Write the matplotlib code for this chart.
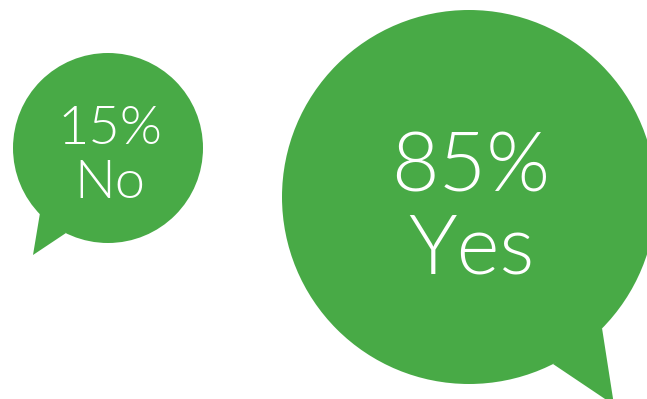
import matplotlib
matplotlib.use("Agg")
import matplotlib.pyplot as plt
from matplotlib.patches import Circle, Polygon

# Survey answers
answers = ["No", "Yes"]
shares = [15, 85]

# Bubble layout (pixel space, y downward)
centers = [(108, 148), (469, 197)]
radii = [95, 187]
tails = [
    [(40, 213), (33, 255), (66, 233)],
    [(602, 328), (614, 405), (553, 364)],
]
font_sizes = [39, 59]
green = "#48AA46"
family = ["Lato", "DejaVu Sans"]

fig = plt.figure(figsize=(6.47, 3.99), dpi=100)
ax = fig.add_axes([0, 0, 1, 1])
ax.set_xlim(0, 647)
ax.set_ylim(399, 0)
ax.axis("off")

for ans, val, c, r, tail, fs in zip(answers, shares, centers, radii, tails, font_sizes):
    ax.add_patch(Circle(c, r, color=green, lw=0))
    ax.add_patch(Polygon(tail, closed=True, color=green, lw=0))
    px = fs * 100 / 72
    ax.text(c[0] + 2, c[1] - 0.07 * px, f"{val}%", ha="center", va="baseline",
            color="white", fontsize=fs, family=family, fontweight=300)
    ax.text(c[0] + 2, c[1] + 0.93 * px, ans, ha="center", va="baseline",
            color="white", fontsize=fs, family=family, fontweight=300)

fig.savefig("out.png", dpi=100)
